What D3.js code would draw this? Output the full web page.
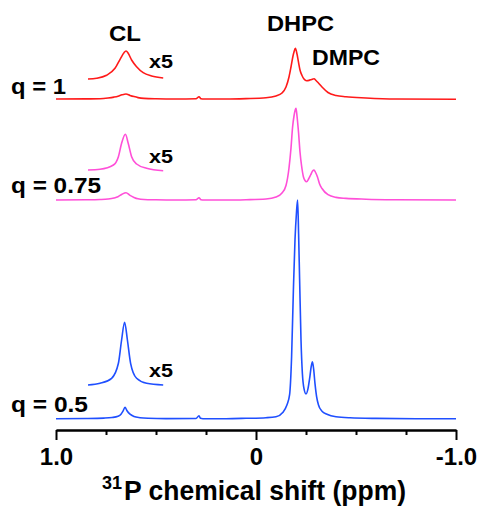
<!DOCTYPE html>
<html>
<head>
<meta charset="utf-8">
<script src="https://cdn.jsdelivr.net/npm/d3@7"></script>
<style>
  body { margin: 0; background: #fff; }
  text { font-family: "Liberation Sans", Arial, sans-serif; font-weight: bold; fill: #000; }
</style>
</head>
<body>
<div id="chart"></div>
<script>
// spectra: shift in ppm, height above each trace's own baseline
const redShift = [1.0, 0.85, 0.78, 0.74, 0.71, 0.69, 0.67, 0.65, 0.63, 0.61, 0.59, 0.56, 0.5, 0.4, 0.3, 0.285, 0.275, 0.26, 0.15, 0.05,
  -0.05, -0.1, -0.13, -0.15, -0.165, -0.175, -0.185, -0.19, -0.197, -0.205, -0.212, -0.22, -0.23, -0.24, -0.253, -0.265, -0.278,
  -0.29, -0.30, -0.31, -0.33, -0.36, -0.40, -0.45, -0.55, -0.7, -1.0];
const redHeight = [0, 0.1, 0.3, 1.0, 1.9, 2.8, 4.2, 5.0, 3.6, 2.4, 1.4, 0.6, 0.2, 0, 0.2, 2.3, 0.3, 0, 0, 0.4,
  1.2, 3.0, 6, 12, 22, 32, 43, 47, 50.7, 45, 37.3, 29, 23.5, 20, 18.3, 18.6, 19.6,
  20.3, 18.5, 16.5, 12, 6.5, 3.5, 2.2, 1.0, 0, -0.3];

const magentaShift = [1.0, 0.85, 0.78, 0.74, 0.71, 0.69, 0.67, 0.65, 0.63, 0.61, 0.59, 0.56, 0.5, 0.4, 0.3, 0.285, 0.275, 0.26, 0.15, 0.05,
  -0.05, -0.1, -0.13, -0.15, -0.165, -0.175, -0.183, -0.19, -0.196, -0.2, -0.205, -0.213, -0.22, -0.228, -0.237, -0.245, -0.253,
  -0.263, -0.273, -0.283, -0.29, -0.298, -0.307, -0.318, -0.33, -0.36, -0.40, -0.45, -0.55, -0.7, -1.0];
const magentaHeight = [0, 0.2, 0.5, 1.0, 2.0, 3.3, 5.8, 7.3, 4.6, 2.6, 1.2, 0.5, 0.2, 0, 0.2, 2.3, 0.3, 0, 0, 0.3,
  1.0, 3, 7, 14.5, 32, 52, 73, 84, 90, 91.7, 84, 66.7, 48, 34, 23.3, 19.5, 18.3,
  21, 25, 29, 30, 27.5, 23.3, 16, 11.5, 5.3, 2.6, 1.6, 0.8, 0.3, 0];

const blueShift = [1.0, 0.85, 0.76, 0.72, 0.69, 0.675, 0.665, 0.655, 0.645, 0.63, 0.61, 0.58, 0.54, 0.45, 0.3, 0.285, 0.278, 0.265, 0.15, 0.05,
  -0.05, -0.1, -0.135, -0.155, -0.168, -0.178, -0.187, -0.195, -0.202, -0.208, -0.213, -0.218, -0.225, -0.232, -0.24, -0.25,
  -0.26, -0.268, -0.276, -0.282, -0.288, -0.295, -0.303, -0.312, -0.33, -0.355, -0.4, -0.47, -0.6, -0.8, -1.0];
const blueHeight = [0, 0.2, 0.6, 1.2, 2.5, 4.5, 7.5, 11.4, 8, 4.5, 2.2, 1, 0.4, 0.1, 0.2, 3, 0.4, 0, 0, 0.4,
  1.0, 2, 6.5, 14, 24, 62, 129, 179, 205, 218.7, 185, 140, 79, 45, 30, 24.7,
  30, 40, 52, 57, 50, 35, 22, 14, 7.5, 4.5, 2, 0.9, 0.3, 0, 0];

// x5 expansions of the CL region
const redInsetShift = [0.84, 0.797, 0.747, 0.705, 0.677, 0.66, 0.65, 0.639, 0.622, 0.597, 0.564, 0.522, 0.464];
const redInsetHeight = [0, 0.7, 3.7, 10.7, 20.7, 26.3, 28, 25.7, 19, 12.3, 6.3, 3, 1];
const magentaInsetShift = [0.84, 0.78, 0.713, 0.688, 0.672, 0.653, 0.639, 0.622, 0.597, 0.547, 0.464];
const magentaInsetHeight = [0, 0.7, 5, 13.3, 26.7, 35.7, 26.7, 13.3, 6, 1.7, -0.7];
const blueInsetShift = [0.84, 0.78, 0.722, 0.688, 0.672, 0.657, 0.643, 0.627, 0.597, 0.547, 0.464];
const blueInsetHeight = [0, 1.7, 6.7, 21.7, 45, 62.7, 45, 21.7, 6.7, 1.7, 0];

const traceNames = ["q = 1", "q = 0.75", "q = 0.5"];
const majorTicks = [1.0, 0, -1.0];
const minorTicks = [0.75, 0.5, 0.25, -0.25, -0.5, -0.75];

const width = 481;
const height = 507;
const axisY = 430;

const svg = d3.select("#chart")
    .append("svg")
    .attr("width", width)
    .attr("height", height);

const x = d3.scaleLinear().domain([1.0, -1.0]).range([56, 456]);
const y = d3.scaleLinear().domain([0, 430]).range([axisY, 0]);

const line = d3.line()
    .x(d => x(d[0]))
    .y(d => y(d[1]))
    .curve(d3.curveMonotoneX);

const traces = [
    { name: traceNames[0], color: "#ff1a1a", shift: redShift, h: redHeight, base: 331,
      inShift: redInsetShift, inH: redInsetHeight, inBase: 351, labelY: 94, labelW: 55, x5Y: 67.5 },
    { name: traceNames[1], color: "#ff4fd8", shift: magentaShift, h: magentaHeight, base: 230,
      inShift: magentaInsetShift, inH: magentaInsetHeight, inBase: 260, labelY: 192.5, labelW: 90, x5Y: 163 },
    { name: traceNames[2], color: "#1f4fff", shift: blueShift, h: blueHeight, base: 11.3,
      inShift: blueInsetShift, inH: blueInsetHeight, inBase: 45, labelY: 411.5, labelW: 77, x5Y: 377 }
];

traces.forEach(t => {
    svg.append("path")
        .datum(t.shift.map((s, i) => [s, t.base + t.h[i]]))
        .attr("d", line)
        .attr("fill", "none")
        .attr("stroke", t.color)
        .attr("stroke-width", 1.6);

    svg.append("path")
        .datum(t.inShift.map((s, i) => [s, t.inBase + t.inH[i]]))
        .attr("d", line)
        .attr("fill", "none")
        .attr("stroke", t.color)
        .attr("stroke-width", 1.6);

    svg.append("text")
        .attr("x", 11)
        .attr("y", t.labelY)
        .attr("textLength", t.labelW)
        .attr("lengthAdjust", "spacingAndGlyphs")
        .style("font-size", "22.5px")
        .text(t.name);

    svg.append("text")
        .attr("x", 149)
        .attr("y", t.x5Y)
        .attr("textLength", 24)
        .attr("lengthAdjust", "spacingAndGlyphs")
        .style("font-size", "18px")
        .text("x5");
});

// peak labels
const peakLabels = [
    { text: "CL", x: 109, y: 40.5, size: 22, w: 32 },
    { text: "DHPC", x: 267, y: 31, size: 22.5, w: 67 },
    { text: "DMPC", x: 312, y: 65, size: 22.5, w: 68 }
];
peakLabels.forEach(p => {
    svg.append("text")
        .attr("x", p.x)
        .attr("y", p.y)
        .attr("textLength", p.w)
        .attr("lengthAdjust", "spacingAndGlyphs")
        .style("font-size", p.size + "px")
        .text(p.text);
});

// axis: long ticks with labels, short ticks between
const minorAxis = svg.append("g")
    .attr("transform", `translate(0,${axisY})`)
    .call(d3.axisBottom(x).tickValues(minorTicks).tickSize(5).tickSizeOuter(0).tickFormat(""));
const majorAxis = svg.append("g")
    .attr("transform", `translate(0,${axisY})`)
    .call(d3.axisBottom(x).tickValues(majorTicks).tickSize(10).tickSizeOuter(0).tickPadding(8)
        .tickFormat(d => d === 0 ? "0" : d3.format(".1f")(d).replace("−", "-")));

[minorAxis, majorAxis].forEach(g => {
    g.selectAll("path, line").attr("stroke", "#000").attr("stroke-width", 2);
});
majorAxis.selectAll("text")
    .style("font-size", "24px")
    .style("font-family", "'Liberation Sans', Arial, sans-serif")
    .style("font-weight", "bold")
    .attr("fill", "#000");

const title = svg.append("text").attr("y", 500);
title.append("tspan").attr("x", 102).attr("dy", -11)
    .style("font-size", "18px").text("31");
title.append("tspan").attr("x", 124).attr("dy", 11)
    .attr("textLength", 282).attr("lengthAdjust", "spacingAndGlyphs")
    .style("font-size", "27px").text("P chemical shift (ppm)");
</script>
</body>
</html>
